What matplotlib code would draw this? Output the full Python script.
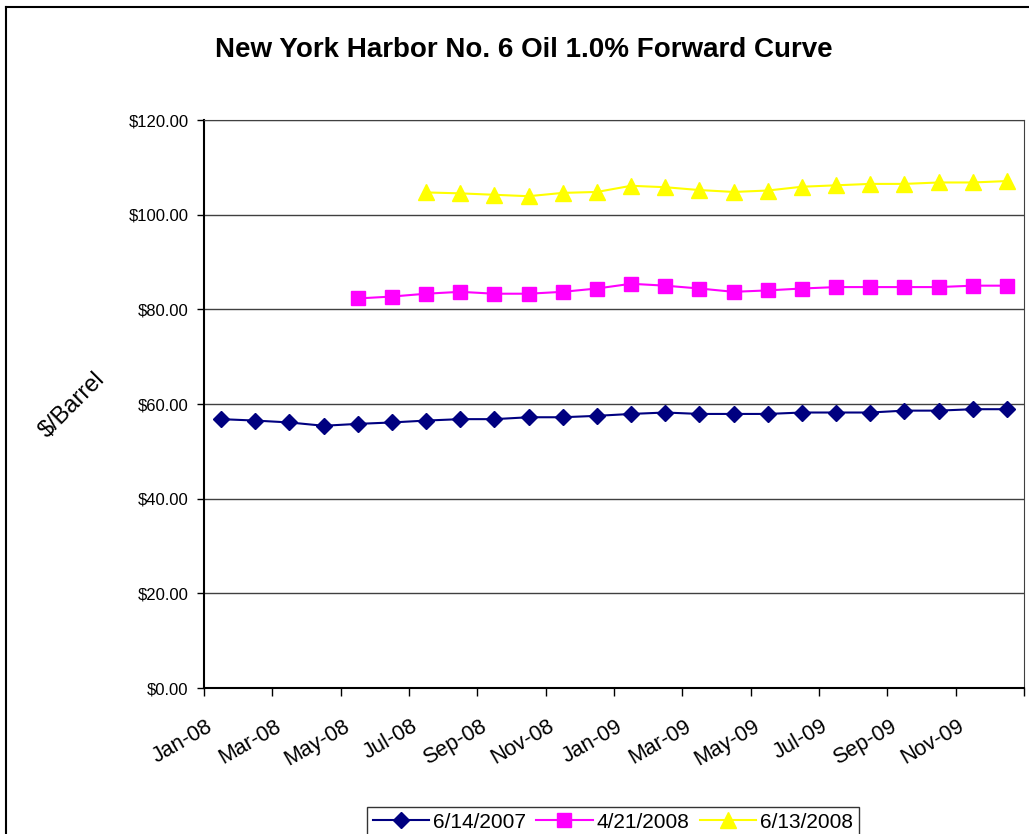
from matplotlib import pyplot as plt
from matplotlib.lines import Line2D
import numpy as np

months = ["Jan-08", "Feb-08", "Mar-08", "Apr-08", "May-08", "Jun-08",
          "Jul-08", "Aug-08", "Sep-08", "Oct-08", "Nov-08", "Dec-08",
          "Jan-09", "Feb-09", "Mar-09", "Apr-09", "May-09", "Jun-09",
          "Jul-09", "Aug-09", "Sep-09", "Oct-09", "Nov-09", "Dec-09"]

curve_2007_06_14 = [56.8, 56.5, 56.1, 55.4, 55.8, 56.1, 56.5, 56.8, 56.8, 57.2, 57.2, 57.5,
                    57.9, 58.2, 57.9, 57.9, 57.9, 58.2, 58.2, 58.2, 58.6, 58.6, 58.9, 58.9]
# starts May-08
curve_2008_04_21 = [82.3, 82.7, 83.3, 83.7, 83.3, 83.3, 83.7, 84.4,
                    85.4, 85.0, 84.4, 83.7, 84.0, 84.4, 84.7, 84.7, 84.7, 84.7, 85.0, 85.0]
# starts Jul-08
curve_2008_06_13 = [104.7, 104.5, 104.2, 103.9, 104.6, 104.8,
                    106.1, 105.8, 105.2, 104.8, 105.1, 105.9, 106.2, 106.5, 106.5, 106.8, 106.8, 107.1]

plt.rcParams['font.family'] = ['Liberation Sans', 'DejaVu Sans']

fig = plt.figure(figsize=(10.29, 8.34), dpi=100)
W, H = 1029, 834
ax = fig.add_axes([204 / W, 1 - 688 / H, 820 / W, 568 / H])

x = np.arange(len(months))
x2 = x[len(months) - len(curve_2008_04_21):]
x3 = x[len(months) - len(curve_2008_06_13):]

ax.plot(x, curve_2007_06_14, color='#000080', marker='D', markersize=8, lw=1.5,
        label='6/14/2007', zorder=3)
ax.plot(x2, curve_2008_04_21, color='#FF00FF', marker='s', markersize=10, lw=1.5,
        label='4/21/2008', zorder=3)
ax.plot(x3, curve_2008_06_13, color='#FFFF00', marker='^', markersize=12, lw=1.5,
        label='6/13/2008', zorder=3)

ax.set_xlim(-0.5, len(months) - 0.5)
ax.set_ylim(0, 120)
ax.set_yticks(np.arange(0, 121, 20))
ax.set_yticklabels(['$%.2f' % v for v in np.arange(0, 121, 20)], fontsize=12)
ax.yaxis.grid(True, color='#404040', lw=1)
ax.set_axisbelow(True)

# tick marks between categories, labels on every other month
ax.set_xticks(np.arange(-0.5, len(months), 2))
ax.set_xticklabels([])
ax.set_xticks(x[::2] - 0.44, minor=True)
ax.set_xticklabels(months[::2], minor=True, rotation=30, ha='right',
                   rotation_mode='anchor', fontsize=15.5)
ax.tick_params(axis='x', which='minor', length=0, pad=20)
ax.tick_params(axis='x', which='major', direction='out', length=6, width=1)
ax.tick_params(axis='y', direction='out', length=5, width=1, pad=6)
for s in ax.spines.values():
    s.set_color('#404040')
ax.spines['left'].set_color('black')
ax.spines['bottom'].set_color('black')
ax.spines['left'].set_linewidth(1.5)
ax.spines['bottom'].set_linewidth(1.5)

fig.text(524 / W, 1 - 50 / H, 'New York Harbor No. 6 Oil 1.0% Forward Curve',
         ha='center', va='center', fontsize=20, fontweight='bold')
fig.text(72 / W, 1 - 405 / H, '$/Barrel', ha='center', va='center',
         fontsize=17, rotation=45)

leg = fig.legend(loc='upper center', bbox_to_anchor=(613 / W, 1 - 797 / H), ncol=3,
                 fontsize=15, frameon=True, fancybox=False, edgecolor='black',
                 handlelength=2.7, columnspacing=0.5, handletextpad=0.2,
                 borderpad=0.25)
leg.get_frame().set_linewidth(1)

# outer chart border (right and bottom are cut off)
fig.add_artist(Line2D([6 / W, 6 / W], [0, 1 - 7 / H], color='black', lw=1.5))
fig.add_artist(Line2D([6 / W, 1], [1 - 7 / H, 1 - 7 / H], color='black', lw=1.5))

fig.savefig('out.png', dpi=100)
